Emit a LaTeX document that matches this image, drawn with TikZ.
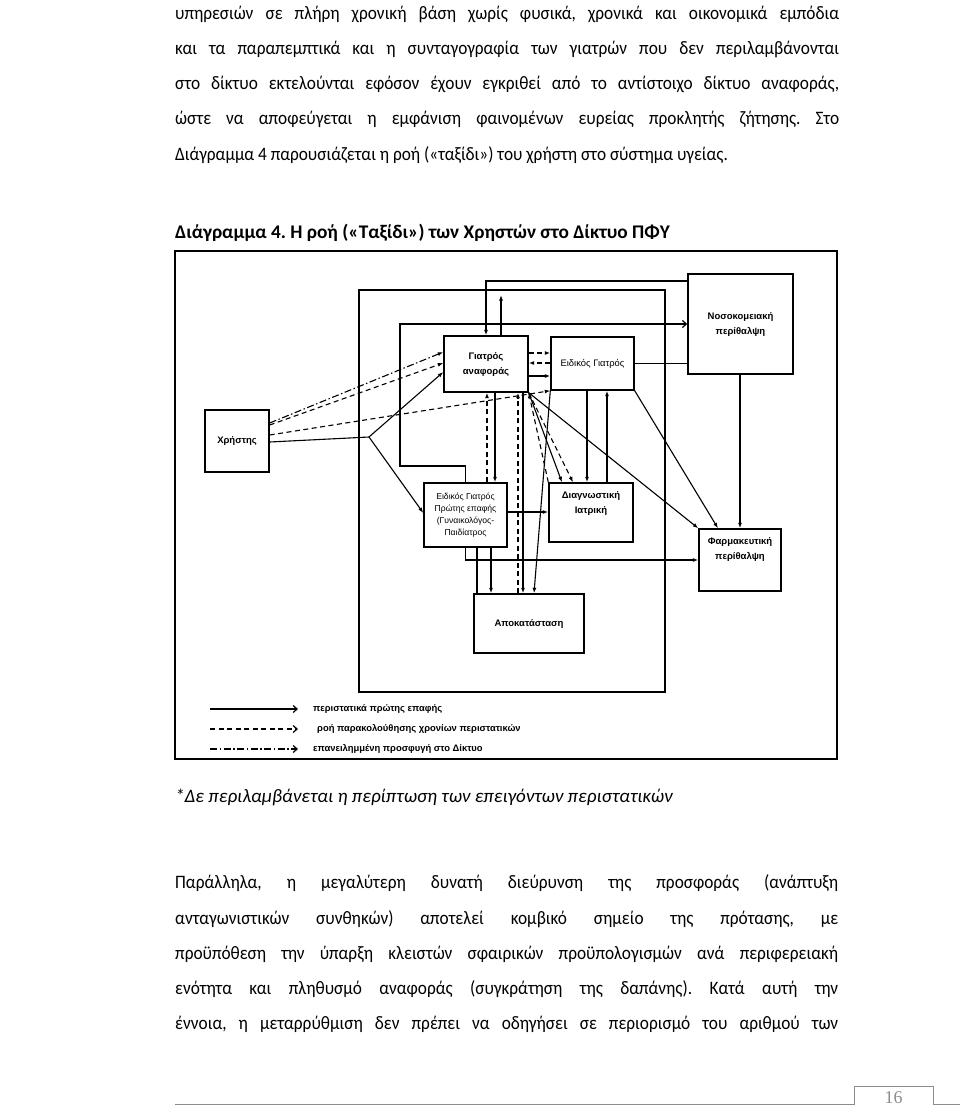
\documentclass[tikz,border=0pt]{standalone}
\usepackage{fontspec}
\setmainfont{Carlito}
\newfontfamily\bodyfont{Carlito}[FakeStretch=0.91]
\newfontfamily\diagfont{Liberation Sans}
\newfontfamily\pagefont{Liberation Serif}
\usetikzlibrary{arrows.meta}
\definecolor{pagegray}{gray}{0.55}
\frenchspacing
\begin{document}
\begin{tikzpicture}[x=1pt, y=-1pt,
  >={Latex[length=5.5pt,width=4pt]},
  body/.style={font=\bodyfont\fontsize{19}{21}\selectfont, anchor=base west, inner sep=0pt},
  box/.style={draw, line width=1.4pt, inner sep=0pt, align=center},
  lbl/.style={font=\diagfont\bfseries\fontsize{9.5}{15}\selectfont, align=center, inner sep=0pt},
  lblthin/.style={font=\diagfont\fontsize{8.6}{12}\selectfont, align=center, inner sep=0pt},
  legtext/.style={font=\diagfont\bfseries\fontsize{9.4}{11}\selectfont, anchor=west, inner sep=0pt},
  solidflow/.style={line width=1.1pt},
  dashflow/.style={line width=1.1pt, dash pattern=on 5pt off 3.5pt},
  dotflow/.style={line width=1.1pt, dash pattern=on 7pt off 2.5pt on 1.5pt off 2.5pt},
  chevron/.style={-{Straight Barb[length=4pt,width=7pt,line width=1.2pt]}}]
  \useasboundingbox (0,0) rectangle (960,1106);
  \fill[white] (0,0) rectangle (960,1106);

  % text above the diagram
  \node[body] (p1) at (175,19) {\makebox[664pt][s]{υπηρεσιών σε πλήρη χρονική βάση χωρίς φυσικά, χρονικά και οικονομικά εμπόδια}};
  \node[body] (p2) at (175,54) {\makebox[664pt][s]{και τα παραπεμπτικά και η συνταγογραφία των γιατρών που δεν περιλαμβάνονται}};
  \node[body] (p3) at (175,89) {\makebox[664pt][s]{στο δίκτυο εκτελούνται εφόσον έχουν εγκριθεί από το αντίστοιχο δίκτυο αναφοράς,}};
  \node[body] (p4) at (175,124) {\makebox[664pt][s]{ώστε να αποφεύγεται η εμφάνιση φαινομένων ευρείας προκλητής ζήτησης. Στο}};
  \node[body] (p5) at (175,160) {Διάγραμμα 4 παρουσιάζεται η ροή («ταξίδι») του χρήστη στο σύστημα υγείας.};
  \node[body, font=\bfseries\fontsize{19.3}{21}\selectfont] (title) at (175,238) {Διάγραμμα 4. Η ροή («Ταξίδι») των Χρηστών στο Δίκτυο ΠΦΥ};

  % frames
  \node[draw, line width=1.9pt, minimum width=662, minimum height=508, inner sep=0pt] (frame) at (506,505) {};
  \node[draw, line width=1.3pt, minimum width=306, minimum height=402, inner sep=0pt] (net) at (512,491) {};

  % boxes
  \node[box, minimum width=64, minimum height=62, lbl] (user) at (237,441) {Χρήστης};
  \node[box, minimum width=84, minimum height=56, lbl] (gp) at (486,364) {Γιατρός\\αναφοράς};
  \node[box, minimum width=83, minimum height=53, lblthin, font=\diagfont\fontsize{9.4}{12}\selectfont] (spec) at (592.5,363.5) {Ειδικός Γιατρός};
  \node[box, minimum width=105, minimum height=100, lbl] (hosp) at (740.5,324) {Νοσοκομειακή\\περίθαλψη};
  \node[box, minimum width=82, minimum height=62] (pharm) at (740,560) {};
  \node[lbl] (pharmtxt) at (740,549) {Φαρμακευτική\\περίθαλψη};
  \node[box, minimum width=84, minimum height=59] (diag) at (591,512.5) {};
  \node[lbl] (diagtxt) at (591,503) {Διαγνωστική\\Ιατρική};
  \node[box, minimum width=83, minimum height=64, lblthin] (fc) at (465.5,515) {Ειδικός Γιατρός\\Πρώτης επαφής\\(Γυναικολόγος-\\Παιδίατρος};
  \node[box, minimum width=110, minimum height=59, lbl] (rehab) at (529,623.5) {Αποκατάσταση};

  % hospital links at the top
  \coordinate (gpup) at (501,295);
  \draw[solidflow,->] (hosp.west |- 0,281) -| (gp.north);
  \draw[solidflow,->] (gp.north -| 501,0) -- (gpup);
  \draw[solidflow,chevron] (fc.north) -- (465.5,466) -- (400,466) -- (400,324) -- (hosp.west |- 0,324);
  \draw[solidflow] (spec.east) -- (spec.east -| hosp.west);
  \draw[solidflow,->] (hosp.south -| pharm.north) -- (pharm.north);

  % from the user
  \coordinate (split) at (369,437);
  \draw[dotflow,->] (user.east |- 0,423) -- (gp.west |- 0,352);
  \draw[dashflow,->] (user.east |- 0,425) -- (gp.west |- 0,363);
  \draw[dashflow,->] (user.east |- 0,435) -- (spec.south west);
  \draw[solidflow] (user.east |- 0,442) -- (split);
  \draw[solidflow,->] (split) -- (gp.west |- 0,372);
  \draw[solidflow,->] (split) -- (fc.west |- 0,513);

  % referral doctor and specialist
  \draw[dashflow,->] (gp.east |- 0,353) -- (spec.west |- 0,353);
  \draw[dashflow,->] (spec.west |- 0,363) -- (gp.east |- 0,363);
  \draw[solidflow,->] (gp.east |- 0,376) -- (spec.west |- 0,376);

  % referral doctor downwards
  \draw[dashflow,->] (fc.north -| 487,0) -- (gp.south -| 487,0);
  \draw[solidflow,->] (gp.south -| 495,0) -- (fc.north -| 495,0);
  \draw[dashflow,->] (rehab.north -| 518,0) -- (gp.south -| 518,0);
  \draw[solidflow,->] (gp.south -| 523,0) -- (rehab.north -| 523,0);
  \draw[solidflow,->] (gp.south east) -- (diag.north -| 562,0);
  \draw[dashflow,->] (gp.south east) -- (diag.north -| 573,0);
  \draw[dashflow,->] (diag.north west) -- (gp.south east);
  \draw[solidflow,->] (gp.south east) -- (pharm.north west);

  % specialist downwards
  \draw[solidflow,->] (spec.south west) -- (rehab.north -| 534,0);
  \draw[solidflow,->] (spec.south -| 587,0) -- (diag.north -| 587,0);
  \draw[solidflow,->] (diag.north -| 607,0) -- (spec.south -| 607,0);
  \draw[solidflow,->] (spec.south east) -- (pharm.north -| 718,0);

  % first contact specialist
  \draw[solidflow,->] (fc.east |- 0,512) -- (diag.west |- 0,512);
  \draw[solidflow,->] (fc.south) |- (pharm.west |- 0,560);
  \draw[solidflow] (fc.south -| 477,0) -- (rehab.north -| 477,0);
  \draw[solidflow,->] (fc.south -| 491,0) -- (rehab.north -| 491,0);

  % legend
  \node[legtext] (leg1) at (313,709) {περιστατικά πρώτης επαφής};
  \node[legtext] (leg2) at (317,729) {ροή παρακολούθησης χρονίων περιστατικών};
  \node[legtext] (leg3) at (313,749) {επανειλημμένη προσφυγή στο Δίκτυο};
  \coordinate (la1) at (210,709); \coordinate (lb1) at (298,709);
  \coordinate (la2) at (210,729); \coordinate (lb2) at (298,729);
  \coordinate (la3) at (210,749); \coordinate (lb3) at (298,749);
  \draw[solidflow,chevron] (la1) -- (lb1);
  \draw[dashflow,chevron] (la2) -- (lb2);
  \draw[dotflow,chevron] (la3) -- (lb3);

  % text below the diagram
  \node[body, font=\itshape\fontsize{19}{21}\selectfont] (note) at (175,802) {*Δε περιλαμβάνεται η περίπτωση των επειγόντων περιστατικών};
  \node[body] (q1) at (175,888) {\makebox[663pt][s]{Παράλληλα, η μεγαλύτερη δυνατή διεύρυνση της προσφοράς (ανάπτυξη}};
  \node[body] (q2) at (175,924) {\makebox[663pt][s]{ανταγωνιστικών συνθηκών) αποτελεί κομβικό σημείο της πρότασης, με}};
  \node[body] (q3) at (175,959) {\makebox[663pt][s]{προϋπόθεση την ύπαρξη κλειστών σφαιρικών προϋπολογισμών ανά περιφερειακή}};
  \node[body] (q4) at (175,994) {\makebox[663pt][s]{ενότητα και πληθυσμό αναφοράς (συγκράτηση της δαπάνης). Κατά αυτή την}};
  \node[body] (q5) at (175,1029) {\makebox[663pt][s]{έννοια, η μεταρρύθμιση δεν πρέπει να οδηγήσει σε περιορισμό του αριθμού των}};

  % page number
  \draw[pagegray, line width=0.9pt] (175,1104) -- (854,1104) -- (854,1086) -- (933,1086) -- (933,1104) -- (960,1104);
  \node[font=\pagefont\fontsize{18}{18}\selectfont, text=pagegray, anchor=base, inner sep=0pt] (pnum) at (893.5,1103) {16};
\end{tikzpicture}
\end{document}
